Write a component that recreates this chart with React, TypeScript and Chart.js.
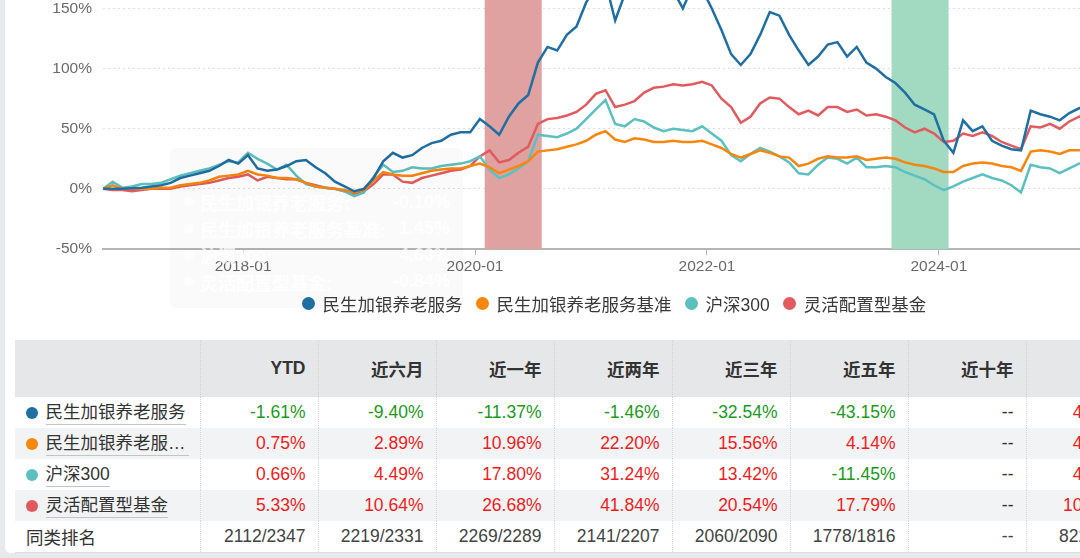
import { useEffect, useRef } from "react"
import { Chart, registerables } from "chart.js"

Chart.register(...registerables)

// x positions are months since 2016-01; one point per month from mid Oct 2016
const START_MONTH = 9.5
const X_MIN = 9.5
const X_MAX = 113.5
const tickMonths = [24, 48, 72, 96]
const yTicks = [-50, 0, 50, 100, 150]

const seriesNames = ["民生加银养老服务", "民生加银养老服务基准", "沪深300", "灵活配置型基金"]
const seriesColors = ["#1f6fa3", "#f7860f", "#5dc0c0", "#e15b5e"]

const fundValues = [
  0, 0, 0, 0.5, 1, 2, 3, 5, 9, 11, 13, 15, 19, 24, 21, 28, 17, 15, 16, 19,
  23, 24, 18, 13, 6, 2, -2, 0, 9, 23, 30, 26, 28, 34, 38, 40, 45, 47, 47, 58,
  52, 45, 60, 71, 78, 105, 118, 115, 128, 135, 155, 168, 172, 140, 162, 178, 182, 175, 172, 165,
  150, 168, 166, 150, 132, 112, 103, 112, 128, 147, 144, 128, 115, 103, 110, 120, 122, 110, 118, 105,
  100, 93, 88, 80, 70, 66, 62, 40, 30, 57, 48, 52, 40, 36, 33, 32, 65, 62, 60, 57,
  63, 67, 69,
]
const benchValues = [
  0, 3, 0, 0, 0, 0, 1, 1, 3, 4, 5, 7, 10, 11, 12, 15, 12, 11, 9, 9,
  8, 5, 2, 1, 0, -1, -3, -1, 7, 14, 12, 11, 11, 13, 15, 16, 17, 17, 19, 21,
  18, 13, 16, 19, 23, 31, 32, 33, 35, 37, 40, 45, 48, 41, 39, 42, 41, 39, 39, 40,
  39, 39, 40, 37, 34, 29, 26, 29, 32, 30, 27, 26, 19, 21, 25, 27, 26, 26, 27, 24,
  25, 26, 25, 22, 20, 19, 17, 14, 14, 19, 21, 22, 21, 19, 18, 15, 31, 32, 31, 29,
  32, 32, 33,
]
const hs300Values = [
  0, 6, 1, 2, 4, 4, 5, 8, 11, 13, 15, 17, 20, 23, 22, 30, 25, 21, 16, 20,
  11, 4, 2, 1, 0, -2, -6, -3, 10, 20, 14, 15, 18, 17, 17, 19, 20, 21, 23, 27,
  16, 9, 12, 17, 23, 45, 44, 43, 46, 50, 58, 66, 74, 54, 52, 58, 56, 51, 48, 50,
  49, 48, 52, 46, 40, 28, 23, 29, 34, 31, 27, 22, 13, 12, 20, 26, 25, 21, 26, 18,
  18, 19, 18, 14, 11, 8, 3, -1, 2, 6, 9, 12, 9, 7, 3, -3, 20, 18, 17, 13,
  17, 21, 22,
]
const mixedValues = [
  0, -1, -1, -2, -1, 0, 0, 0, 2, 3, 4, 5, 7, 9, 10, 12, 7, 10, 9, 8,
  8, 5, 3, 1, 0, -2, -4, -2, 4, 12, 12, 6, 5, 9, 11, 13, 15, 16, 19, 27,
  32, 22, 24, 30, 35, 54, 58, 59, 61, 64, 70, 79, 82, 68, 70, 73, 80, 84, 85, 87,
  86, 87, 89, 86, 75, 68, 55, 60, 71, 76, 75, 68, 62, 65, 61, 68, 68, 64, 66, 61,
  62, 60, 57, 51, 47, 50, 46, 39, 40, 46, 44, 47, 44, 39, 36, 33, 52, 51, 54, 50,
  56, 60, 62,
]

// shaded periods (start, end) as dates
const bandStarts = ["2020-02-01", "2023-08-04"]
const bandEnds = ["2020-07-28", "2024-02-01"]
const bandColors = ["#e0a1a1", "#a2d9c1"]

// table
const tableHeaders = ["", "YTD", "近六月", "近一年", "近两年", "近三年", "近五年", "近十年", ""]
const fundRow = ["-1.61%", "-9.40%", "-11.37%", "-1.46%", "-32.54%", "-43.15%", "--", "43.79%"]
const benchRow = ["0.75%", "2.89%", "10.96%", "22.20%", "15.56%", "4.14%", "--", "45.32%"]
const hs300Row = ["0.66%", "4.49%", "17.80%", "31.24%", "13.42%", "-11.45%", "--", "41.08%"]
const mixedRow = ["5.33%", "10.64%", "26.68%", "41.84%", "20.54%", "17.79%", "--", "106.73%"]
const rankRow = ["2112/2347", "2219/2331", "2269/2289", "2141/2207", "2060/2090", "1778/1816", "--", "822/1030"]
const rankLabel = "同类排名"

// faded tooltip left on the chart
const tipValues = ["-0.10%", "1.45%", "4.60%", "-0.84%"]

const toMonths = (d: string) => {
  const [y, m, day] = d.split("-").map(Number)
  return (y - 2016) * 12 + (m - 1) + (day - 1) / 30
}

const FONT = '"Liberation Sans", "Noto Sans CJK SC", sans-serif'

const bandPlugin = {
  id: "bands",
  beforeDatasetsDraw(chart: any) {
    const { ctx, chartArea, scales } = chart
    ctx.save()
    bandStarts.forEach((s, i) => {
      const x1 = scales.x.getPixelForValue(toMonths(s))
      const x2 = scales.x.getPixelForValue(toMonths(bandEnds[i]))
      ctx.fillStyle = bandColors[i]
      ctx.fillRect(x1, chartArea.top, x2 - x1, chartArea.bottom - chartArea.top)
    })
    ctx.restore()
  },
}

function LineChart() {
  const chartRef = useRef<HTMLCanvasElement>(null)
  const chartInstance = useRef<Chart | null>(null)

  useEffect(() => {
    if (!chartRef.current) return
    if (chartInstance.current) chartInstance.current.destroy()
    const ctx = chartRef.current.getContext("2d")
    if (!ctx) return

    const allValues = [fundValues, benchValues, hs300Values, mixedValues]

    chartInstance.current = new Chart(ctx, {
      type: "line",
      data: {
        datasets: allValues.map((vals, i) => ({
          label: seriesNames[i],
          data: vals.map((v, k) => ({ x: START_MONTH + k, y: v })),
          borderColor: seriesColors[i],
          backgroundColor: seriesColors[i],
          borderWidth: 2.5,
          pointRadius: 0,
          tension: 0,
        })),
      },
      options: {
        responsive: false,
        animation: false,
        layout: { padding: { top: 8, right: 17, left: 0, bottom: 0 } },
        plugins: {
          legend: { display: false },
          tooltip: { enabled: false },
        },
        scales: {
          x: {
            type: "linear",
            min: X_MIN,
            max: X_MAX,
            afterBuildTicks: (s: any) => {
              s.ticks = tickMonths.map((v) => ({ value: v }))
            },
            afterFit: (s: any) => {
              s.height = 40
            },
            grid: { drawOnChartArea: false, drawTicks: true, tickLength: 6, color: "#b5b5b5" },
            border: { display: true, color: "#b5b5b5", width: 2 },
            ticks: {
              padding: 2,
              color: "#6a6a6a",
              font: { family: FONT, size: 15.5 },
              maxRotation: 0,
              autoSkip: false,
              callback: (v: any) => `${2016 + Math.floor(Number(v) / 12)}-01`,
            },
          },
          y: {
            min: -50,
            max: 200,
            afterBuildTicks: (s: any) => {
              s.ticks = yTicks.map((v) => ({ value: v }))
            },
            afterFit: (s: any) => {
              s.width = 103
            },
            grid: { color: "#dedede", drawTicks: false },
            border: { display: false, dash: [2, 3] },
            ticks: {
              padding: 11,
              color: "#6a6a6a",
              font: { family: FONT, size: 15.5 },
              callback: (v: any) => `${v}%`,
            },
          },
        },
      },
      plugins: [bandPlugin],
    })

    return () => {
      if (chartInstance.current) {
        chartInstance.current.destroy()
        chartInstance.current = null
      }
    }
  }, [])

  return (
    <canvas
      ref={chartRef}
      width={1125}
      height={361}
      style={{ position: "absolute", left: 0, top: -72, width: 1125, height: 361 }}
    ></canvas>
  )
}

const valueColor = (v: string) => (v === "--" ? "#333" : v.startsWith("-") ? "#1c9a1c" : "#f21c1c")

export default function App() {
  useEffect(() => {
    document.body.style.margin = "0"
    document.body.style.background = "#e8e9eb"
  }, [])

  const rows = [fundRow, benchRow, hs300Row, mixedRow]
  const colWidths = [185, 118, 118, 118, 118, 118, 118, 118, 118]

  return (
    <div
      style={{
        position: "relative",
        width: 1080,
        height: 558,
        overflow: "hidden",
        background: "#e8e9eb",
        fontFamily: FONT,
      }}
    >
      <div
        style={{
          position: "absolute",
          left: 5,
          top: -20,
          width: 1110,
          height: 573,
          background: "#fff",
          borderRadius: 6,
        }}
      />
      <LineChart />

      {/* faded tooltip */}
      <div
        style={{
          position: "absolute",
          left: 170,
          top: 148,
          width: 293,
          height: 160,
          background: "rgba(0,0,0,0.02)",
          borderRadius: 5,
          pointerEvents: "none",
        }}
      >
        {seriesNames.map((n, i) => (
          <div
            key={n}
            style={{
              position: "absolute",
              left: 14,
              right: 13,
              top: 42 + i * 26.5,
              height: 24,
              display: "flex",
              alignItems: "center",
              justifyContent: "space-between",
              color: "rgba(255,255,255,0.75)",
              fontSize: 18,
              fontWeight: 600,
            }}
          >
            <span style={{ display: "flex", alignItems: "center" }}>
              <span
                style={{
                  width: 10,
                  height: 10,
                  borderRadius: 5,
                  background: "rgba(255,255,255,0.6)",
                  marginRight: 6,
                }}
              />
              {n}:
            </span>
            <span>{tipValues[i]}</span>
          </div>
        ))}
      </div>

      {/* legend */}
      <div
        style={{
          position: "absolute",
          left: 302,
          top: 291,
          height: 24,
          display: "flex",
          alignItems: "center",
          fontSize: 17.5,
          color: "#3a3a3a",
          whiteSpace: "nowrap",
        }}
      >
        {seriesNames.map((n, i) => (
          <div key={n} style={{ display: "flex", alignItems: "center", marginRight: 13.5 }}>
            <span
              style={{
                width: 13,
                height: 13,
                borderRadius: 7,
                background: seriesColors[i],
                marginRight: 7.5,
                display: "inline-block",
              }}
            />
            <span>{n}</span>
          </div>
        ))}
      </div>

      {/* table */}
      <table
        style={{
          position: "absolute",
          left: 15,
          top: 340,
          borderCollapse: "collapse",
          tableLayout: "fixed",
          width: colWidths.reduce((a, b) => a + b, 0),
          fontSize: 17.5,
          fontFamily: FONT,
          color: "#333",
        }}
      >
        <colgroup>
          {colWidths.map((w, i) => (
            <col key={i} style={{ width: w }} />
          ))}
        </colgroup>
        <thead>
          <tr style={{ background: "#e6e7e9", height: 57 }}>
            {tableHeaders.map((h, i) => (
              <th
                key={i}
                style={{
                  textAlign: "right",
                  padding: "0 12px 0 0",
                  fontWeight: 700,
                  color: "#333",
                  borderLeft: i === 0 ? "none" : "1px dotted #cfd0d3",
                  whiteSpace: "nowrap",
                }}
              >
                {h}
              </th>
            ))}
          </tr>
        </thead>
        <tbody>
          {rows.map((r, ri) => (
            <tr key={ri} style={{ background: ri % 2 === 1 ? "#f2f3f4" : "#fff", height: 31 }}>
              <td style={{ padding: "0 0 0 10.5px", whiteSpace: "nowrap" }}>
                <span style={{ display: "flex", alignItems: "center" }}>
                  <span
                    style={{
                      width: 12,
                      height: 12,
                      borderRadius: 6,
                      background: seriesColors[ri],
                      marginRight: 8,
                      flex: "none",
                    }}
                  />
                  <span
                    style={{
                      display: "inline-block",
                      maxWidth: 143,
                      overflow: "hidden",
                      textOverflow: "ellipsis",
                      whiteSpace: "nowrap",
                      borderBottom: "1px solid #c4c4c4",
                      lineHeight: "23px",
                    }}
                  >
                    {seriesNames[ri]}
                  </span>
                </span>
              </td>
              {r.map((v, ci) => (
                <td
                  key={ci}
                  style={{
                    textAlign: "right",
                    padding: "0 12px 0 0",
                    color: valueColor(v),
                    borderLeft: "1px dotted #d6d7d9",
                    whiteSpace: "nowrap",
                  }}
                >
                  {v}
                </td>
              ))}
            </tr>
          ))}
          <tr style={{ background: "#fff", height: 31, borderBottom: "1px solid #dcdde0" }}>
            <td style={{ padding: "0 0 0 11px", whiteSpace: "nowrap", color: "#333" }}>{rankLabel}</td>
            {rankRow.map((v, ci) => (
              <td
                key={ci}
                style={{
                  textAlign: "right",
                  padding: "0 12px 0 0",
                  color: "#444",
                  borderLeft: "1px dotted #d6d7d9",
                  whiteSpace: "nowrap",
                }}
              >
                {v}
              </td>
            ))}
          </tr>
        </tbody>
      </table>
    </div>
  )
}
